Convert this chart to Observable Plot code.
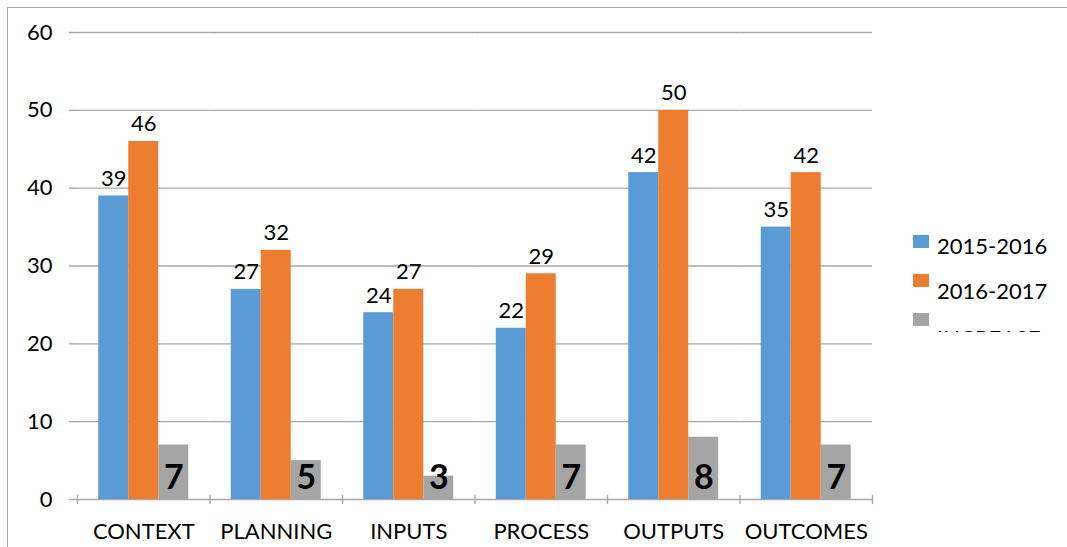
<!DOCTYPE html>
<html>
<head>
<meta charset="utf-8">
<script src="https://cdn.jsdelivr.net/npm/d3@7"></script>
<script src="https://cdn.jsdelivr.net/npm/@observablehq/plot@0.6"></script>
<style>
  body { margin: 0; background: #fff; font-family: Lato, "Open Sans", sans-serif; }
  #wrap { position: relative; width: 1067px; height: 547px; overflow: hidden; background: #fff; }
  #wrap svg { position: absolute; left: 0; top: 0; }
  #border { position: absolute; left: 7px; top: 7px; width: 1100px; height: 600px;
            border-left: 1.5px solid #a9a9a9; border-top: 1.5px solid #a9a9a9; pointer-events: none; }
  .key { position: absolute; left: 913px; width: 150px; height: 60px; }
  .key .sw { position: absolute; left: 0; width: 16px; height: 13px; }
  .key .lab { position: absolute; left: 24px; font-size: 22px; line-height: 22px; color: #000; white-space: nowrap; }
  .clip { overflow: hidden; }
</style>
</head>
<body>
<div id="wrap"><div id="border"></div></div>
<script>
// Evaluation scores by component, two school years and their difference
const categories = ["CONTEXT", "PLANNING", "INPUTS", "PROCESS", "OUTPUTS", "OUTCOMES"];
const seriesNames = ["2015-2016", "2016-2017", "INCREASE"];
const values2015 = [39, 27, 24, 22, 42, 35];
const values2016 = [46, 32, 27, 29, 50, 42];
const increase = [7, 5, 3, 7, 8, 7];
const seriesColors = ["#5B9BD5", "#ED7D31", "#A5A5A5"];
const yTicks = [0, 10, 20, 30, 40, 50, 60];

const seriesValues = [values2015, values2016, increase];
const rows = [];
categories.forEach((c, i) => {
  seriesNames.forEach((s, j) => rows.push({category: c, series: s, value: seriesValues[j][i]}));
});
const yearRows = rows.filter(d => d.series !== "INCREASE");
const incRows = rows.filter(d => d.series === "INCREASE");

const gridColor = "#a8a8a8";
// short downward tick drawn at a facet edge
const tickShape = {draw(context, l) { context.moveTo(0, 0); context.lineTo(0, -l); }};

const chart = Plot.plot({
  width: 1067,
  height: 547,
  marginLeft: 77,
  marginRight: 195,
  marginTop: 32,
  marginBottom: 48,
  style: {fontFamily: "Lato, 'Open Sans', sans-serif", fontSize: "22px", color: "#000", background: "transparent", overflow: "visible"},
  fx: {domain: categories, padding: 0, round: false, label: null},
  x: {domain: seriesNames, paddingInner: 0, paddingOuter: 0.7083, round: false, axis: null},
  y: {domain: [0, 60], label: null},
  color: {domain: seriesNames, range: seriesColors},
  marks: [
    Plot.gridY(yTicks, {stroke: gridColor, strokeOpacity: 1, strokeWidth: 1.4}),
    Plot.axisY(yTicks, {tickSize: 8, tickPadding: 17, stroke: gridColor, strokeWidth: 1.4, label: null, fontSize: 22, fill: "#000"}),
    Plot.axisFx({anchor: "bottom", tickSize: 0, tickPadding: 24, label: null, fontSize: 22, fill: "#000"}),
    Plot.barY(rows, {fx: "category", x: "series", y: "value", fill: "series"}),
    Plot.vector([0], {frameAnchor: "bottom-left", length: 8, rotate: 180, shape: tickShape, stroke: gridColor, strokeWidth: 1.4}),
    Plot.vector([categories[categories.length - 1]], {fx: d => d, frameAnchor: "bottom-right", length: 8, rotate: 180, shape: tickShape, stroke: gridColor, strokeWidth: 1.4}),
    Plot.text(yearRows, {fx: "category", x: "series", y: "value", text: d => String(d.value), lineAnchor: "bottom", dy: -10, fontSize: 22, fill: "#000"}),
    Plot.text(incRows, {fx: "category", x: "series", frameAnchor: "bottom", text: d => String(d.value), lineAnchor: "bottom", dy: -11, fontSize: 34, fontWeight: "bold", fill: "#000"})
  ]
});

const wrap = document.getElementById("wrap");
wrap.insertBefore(chart, wrap.firstChild);

// Legend on the right; the last entry is cut off by its box
const legendRows = [
  {name: seriesNames[0], color: seriesColors[0], top: 235, labTop: 0, clip: null},
  {name: seriesNames[1], color: seriesColors[1], top: 274, labTop: 6, clip: null},
  {name: seriesNames[2], color: seriesColors[2], top: 313, labTop: 13.5, clip: 19}
];
legendRows.forEach(r => {
  const k = document.createElement("div");
  k.className = "key" + (r.clip ? " clip" : "");
  k.style.top = r.top + "px";
  if (r.clip) k.style.height = r.clip + "px";
  const sw = document.createElement("div");
  sw.className = "sw";
  sw.style.top = "0px";
  sw.style.background = r.color;
  const lab = document.createElement("div");
  lab.className = "lab";
  lab.style.top = r.labTop + "px";
  lab.textContent = r.name;
  k.appendChild(sw);
  k.appendChild(lab);
  wrap.appendChild(k);
});
</script>
</body>
</html>
